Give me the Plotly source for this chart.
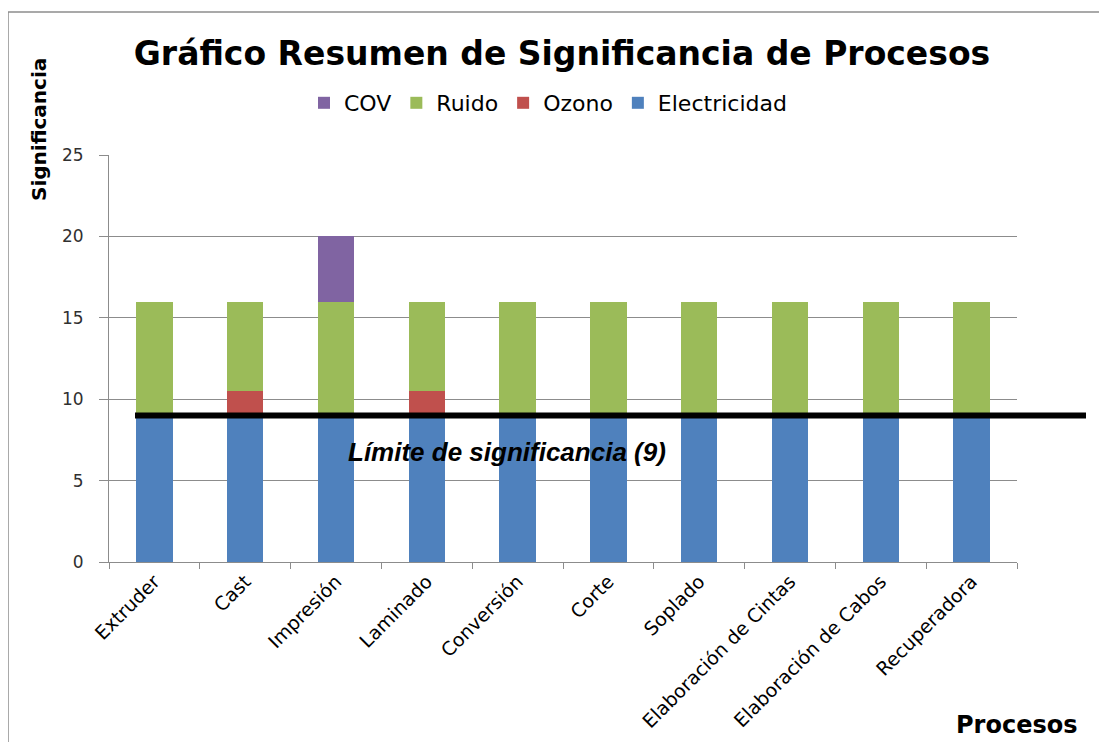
import plotly.graph_objects as go

categories = ["Extruder", "Cast", "Impresión", "Laminado", "Conversión", "Corte",
              "Soplado", "Elaboración de Cintas", "Elaboración de Cabos", "Recuperadora"]
electricidad = [9, 9, 9, 9, 9, 9, 9, 9, 9, 9]
ozono = [0, 1.5, 0, 1.5, 0, 0, 0, 0, 0, 0]
ruido = [7, 5.5, 7, 5.5, 7, 7, 7, 7, 7, 7]
cov = [0, 0, 4, 0, 0, 0, 0, 0, 0, 0]
limite = 9
y_ticks = [0, 5, 10, 15, 20, 25]

OFF = 8  # page body margin
W, H = 1107 - 2 * OFF, 742 - OFF
# plot area in screen pixels: x 109..1017, y 155..562
L, T = 109 - OFF, 155 - OFF
R = W + OFF - 1017
B = H + OFF - 562
pw, ph = W - L - R, H - T - B


def px(x):
    return (x - OFF - L) / pw


def py(y):
    return (H - B - (y - OFF)) / ph


fig = go.Figure()
fig.add_trace(go.Bar(name="Electricidad", x=categories, y=electricidad, marker_color="#4F81BD"))
fig.add_trace(go.Bar(name="Ozono", x=categories, y=ozono, marker_color="#C0504D"))
fig.add_trace(go.Bar(name="Ruido", x=categories, y=ruido, marker_color="#9BBB59"))
fig.add_trace(go.Bar(name="COV", x=categories, y=cov, marker_color="#8064A2"))
fig.update_traces(marker_line_width=0)

FONT = "'DejaVu Sans', sans-serif"

fig.update_layout(
    width=W, height=H,
    margin=dict(l=L, r=R, t=T, b=B, autoexpand=False),
    barmode="stack", bargap=0.6,
    plot_bgcolor="white", paper_bgcolor="white",
    font=dict(family=FONT, color="#000000"),
    title=dict(text="<b>Gráfico Resumen de Significancia de Procesos</b>",
               x=(562 - OFF) / W, xanchor="center", y=1 - (53 - OFF) / H, yanchor="middle",
               font=dict(size=33, family=FONT, color="#000000")),
    legend=dict(orientation="h", traceorder="reversed",
                x=px(548), xanchor="center", y=py(103), yanchor="middle",
                font=dict(size=22, family=FONT), itemwidth=30,
                bgcolor="rgba(0,0,0,0)"),
    showlegend=True,
)

fig.update_xaxes(
    type="category", tickangle=-45, tickfont=dict(size=19, family=FONT, color="#000000"),
    showline=True, linecolor="#8c8c8c", linewidth=1,
    ticks="outside", ticklen=6, tickcolor="#8c8c8c", tickson="boundaries",
    showgrid=False,
)
fig.update_yaxes(
    range=[0, 25], tickvals=y_ticks,
    tickfont=dict(size=17, family=FONT, color="#303030"),
    showline=True, linecolor="#8c8c8c", linewidth=1,
    ticks="outside", ticklen=9, tickcolor="#8c8c8c", ticklabelstandoff=12,
    showgrid=True, gridcolor="#8c8c8c", gridwidth=1, zeroline=False,
)

# outer chart border (top and left edges visible)
fig.add_shape(type="line", xref="paper", yref="paper",
              x0=px(8), x1=px(1107), y0=py(12), y1=py(12),
              line=dict(color="#8c8c8c", width=1.5), layer="below")
fig.add_shape(type="line", xref="paper", yref="paper",
              x0=px(8), x1=px(8), y0=py(12), y1=py(742),
              line=dict(color="#8c8c8c", width=1.5), layer="below")

# threshold line
fig.add_shape(type="line", xref="paper", yref="y",
              x0=px(135), x1=px(1086), y0=limite, y1=limite,
              line=dict(color="#000000", width=6))

fig.add_annotation(text="<b><i>Límite de significancia (9)</i></b>",
                   xref="paper", yref="paper", x=px(507), y=py(452),
                   showarrow=False, xanchor="center", yanchor="middle",
                   font=dict(size=26, family="'Liberation Sans', Arial, sans-serif", color="#000000"))

fig.add_annotation(text="<b>Significancia</b>", textangle=-90,
                   xref="paper", yref="paper", x=px(39), y=py(130),
                   showarrow=False, xanchor="center", yanchor="middle",
                   font=dict(size=20, family=FONT, color="#000000"))

fig.add_annotation(text="<b>Procesos</b>",
                   xref="paper", yref="paper", x=px(1016), y=py(725),
                   showarrow=False, xanchor="center", yanchor="middle",
                   font=dict(size=24, family=FONT, color="#000000"))

fig.write_html("out.html")
